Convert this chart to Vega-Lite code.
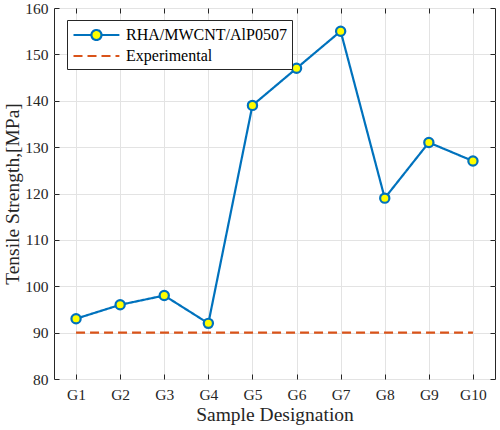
{
  "$schema": "https://vega.github.io/schema/vega-lite/v6.json",
  "autosize": {"type": "none"},
  "padding": {"left": 54, "top": 8, "right": 5, "bottom": 51},
  "width": 441,
  "height": 371,
  "background": "white",
  "config": {
    "font": "Liberation Serif",
    "view": {"stroke": "#262626", "strokeWidth": 1},
    "axis": {
      "labelFont": "Liberation Serif",
      "titleFont": "Liberation Serif",
      "labelFontSize": 15.5,
      "titleFontSize": 19.5,
      "titleFontWeight": "normal",
      "labelColor": "#262626",
      "titleColor": "#262626",
      "domain": false,
      "tickColor": "#262626",
      "tickSize": -5,
      "gridColor": "#e3e3e3",
      "gridWidth": 1
    }
  },
  "data": {
    "values": [
      {"Sample": "G1", "value": 93, "series": "RHA/MWCNT/AlP0507"},
      {"Sample": "G2", "value": 96, "series": "RHA/MWCNT/AlP0507"},
      {"Sample": "G3", "value": 98, "series": "RHA/MWCNT/AlP0507"},
      {"Sample": "G4", "value": 92, "series": "RHA/MWCNT/AlP0507"},
      {"Sample": "G5", "value": 139, "series": "RHA/MWCNT/AlP0507"},
      {"Sample": "G6", "value": 147, "series": "RHA/MWCNT/AlP0507"},
      {"Sample": "G7", "value": 155, "series": "RHA/MWCNT/AlP0507"},
      {"Sample": "G8", "value": 119, "series": "RHA/MWCNT/AlP0507"},
      {"Sample": "G9", "value": 131, "series": "RHA/MWCNT/AlP0507"},
      {"Sample": "G10", "value": 127, "series": "RHA/MWCNT/AlP0507"},
      {"Sample": "G1", "value": 90, "series": "Experimental"},
      {"Sample": "G2", "value": 90, "series": "Experimental"},
      {"Sample": "G3", "value": 90, "series": "Experimental"},
      {"Sample": "G4", "value": 90, "series": "Experimental"},
      {"Sample": "G5", "value": 90, "series": "Experimental"},
      {"Sample": "G6", "value": 90, "series": "Experimental"},
      {"Sample": "G7", "value": 90, "series": "Experimental"},
      {"Sample": "G8", "value": 90, "series": "Experimental"},
      {"Sample": "G9", "value": 90, "series": "Experimental"},
      {"Sample": "G10", "value": 90, "series": "Experimental"}
    ]
  },
  "layer": [
    {
      "mark": {"type": "line", "strokeWidth": 2.2},
      "encoding": {
        "x": {
          "field": "Sample",
          "type": "ordinal",
          "sort": ["G1","G2","G3","G4","G5","G6","G7","G8","G9","G10"],
          "scale": {"type": "point", "padding": 0.5},
          "axis": {"orient": "bottom", "labelAngle": 0, "labelPadding": 13, "title": "Sample Designation", "titlePadding": 3, "grid": true}
        },
        "y": {
          "field": "value",
          "type": "quantitative",
          "scale": {"domain": [80, 160], "nice": false, "zero": false},
          "axis": {"orient": "left", "values": [80,90,100,110,120,130,140,150,160], "labelPadding": 11, "title": "Tensile Strength,[MPa]", "titlePadding": 2, "grid": true}
        },
        "color": {
          "field": "series",
          "type": "nominal",
          "sort": ["RHA/MWCNT/AlP0507", "Experimental"],
          "scale": {"domain": ["RHA/MWCNT/AlP0507", "Experimental"], "range": ["#0072BD", "#D95319"]},
          "legend": {
            "title": null,
            "orient": "none",
            "legendX": 13,
            "legendY": 12,
            "strokeColor": "#262626",
            "fillColor": "white",
            "padding": 5,
            "labelFont": "Liberation Serif",
            "labelFontSize": 16,
            "labelColor": "#000000",
            "labelLimit": 400,
            "labelOffset": 34,
            "rowPadding": 1,
            "symbolSize": 289,
            "symbolStrokeWidth": 2.2,
            "symbolType": "M-1,0L1.11,0A0.59,0.59,0,1,1,2.29,0A0.59,0.59,0,1,1,1.11,0M2.29,0L4.4,0",
            "encode": {
              "symbols": {
                "update": {
                  "shape": {"signal": "datum.value === 'Experimental' ? 'M-1,0L4.4,0' : 'M-1,0L1.11,0A0.59,0.59,0,1,1,2.29,0A0.59,0.59,0,1,1,1.11,0M2.29,0L4.4,0'"},
                  "fill": {"signal": "datum.value === 'Experimental' ? 'transparent' : '#FFFF00'"},
                  "strokeDash": {"signal": "datum.value === 'Experimental' ? [10, 6] : []"},
                  "opacity": {"value": 1}
                }
              }
            }
          }
        },
        "strokeDash": {
          "field": "series",
          "type": "nominal",
          "scale": {"domain": ["RHA/MWCNT/AlP0507", "Experimental"], "range": [[1, 0], [9, 5]]},
          "legend": null
        }
      }
    },
    {
      "transform": [{"filter": "datum.series === 'RHA/MWCNT/AlP0507'"}],
      "mark": {"type": "point", "shape": "circle", "filled": true, "fill": "#FFFF00", "stroke": "#0072BD", "strokeWidth": 2.2, "size": 85, "opacity": 1},
      "encoding": {
        "x": {
          "field": "Sample",
          "type": "ordinal",
          "sort": ["G1","G2","G3","G4","G5","G6","G7","G8","G9","G10"],
          "axis": {"orient": "top", "labels": false, "title": null, "grid": false}
        },
        "y": {
          "field": "value",
          "type": "quantitative",
          "axis": {"orient": "right", "labels": false, "title": null, "grid": false, "values": [80,90,100,110,120,130,140,150,160]}
        }
      }
    }
  ],
  "resolve": {"axis": {"x": "independent", "y": "independent"}}
}
